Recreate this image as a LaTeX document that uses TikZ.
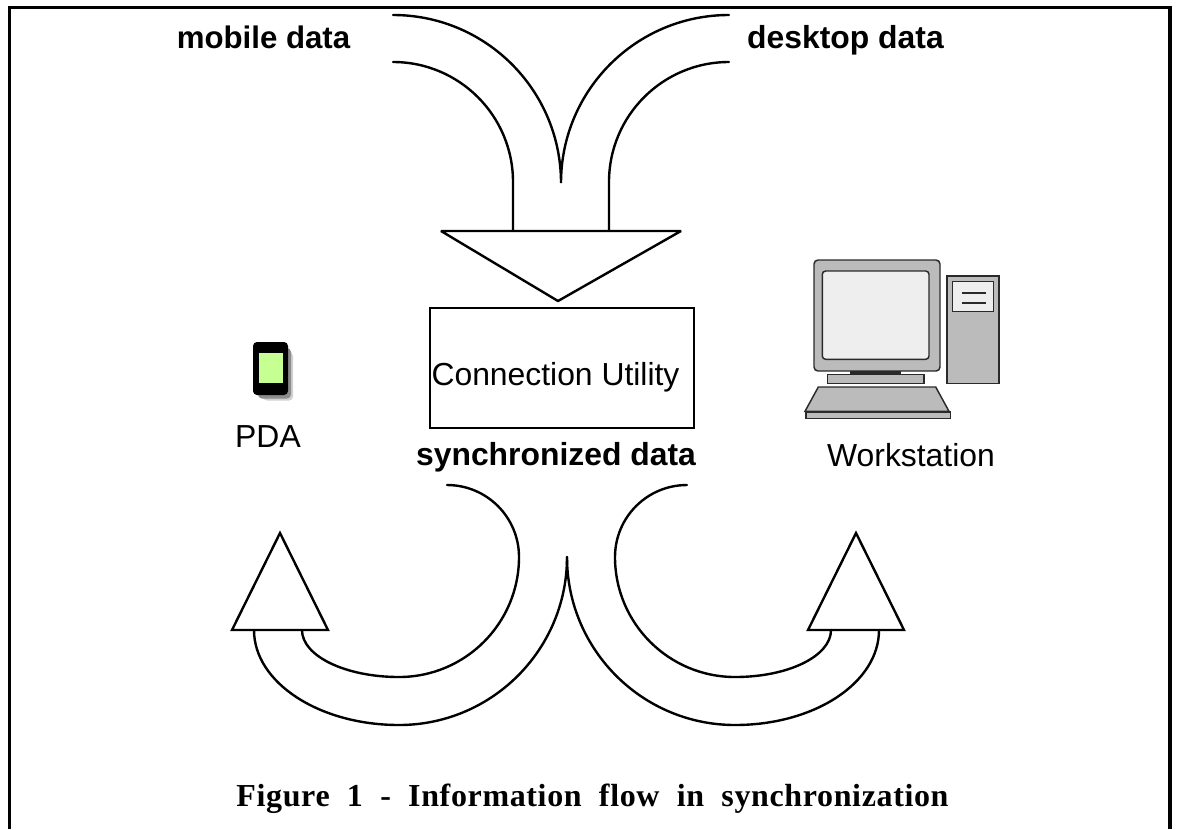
\documentclass[tikz,border=0pt]{standalone}
\usepackage{fontspec}
\setmainfont{Liberation Sans}
\newfontfamily\capfont[LetterSpace=2,WordSpace=2]{Liberation Serif}
\definecolor{compgrey}{HTML}{BBBBBB}
\definecolor{screengrey}{HTML}{EEEEEE}
\definecolor{compline}{HTML}{2A2A2A}
\definecolor{pdagreen}{HTML}{C6FF92}
\tikzset{
  flow/.style={line width=1.8pt,line cap=round,line join=miter},
  frameline/.style={line width=2.4pt},
  labelbold/.style={font=\fontsize{23.9}{26}\selectfont\bfseries,inner sep=0pt,anchor=base},
  labelplain/.style={font=\fontsize{23.9}{26}\selectfont,inner sep=0pt,anchor=base},
  compshape/.style={draw=compline,fill=compgrey,line width=1.1pt},
  compscreen/.style={draw=compline,fill=screengrey,line width=1.1pt},
}
\begin{document}
\begin{tikzpicture}[x=0.75pt,y=-0.75pt]
\useasboundingbox (0,0) rectangle (1180,829);
\fill[white] (0,0) rectangle (1180,829);
% frame
\draw[frameline] (9.5,829) -- (9.5,7.5) -- (1170,7.5) -- (1170,829);
% top flow
\draw[flow] (393,15) .. controls (485.8,15) and (561,90.2) .. (561,183)
  .. controls (561,90.2) and (636.2,15) .. (729,15);
\draw[flow] (393,62) .. controls (459.3,62) and (513,115.7) .. (513,182) -- (513,231);
\draw[flow] (729,62) .. controls (662.7,62) and (609,115.7) .. (609,182) -- (609,231);
\draw[flow,line join=bevel] (441,231) -- (681,231) -- (558,301) -- cycle;
% box
\node[draw,line width=1.8pt,inner sep=0pt,minimum width=198pt,minimum height=90pt] (util) at (562,368) {};
\node[labelplain] (utiltext) at (555.5,385) {Connection Utility};
% labels
\node[labelbold,font=\fontsize{23.4}{26}\selectfont\bfseries] (mobile) at (263.5,48) {mobile data};
\node[labelbold] (desktop) at (845.5,48) {desktop data};
\node[labelbold] (sync) at (556,465) {synchronized data};
\node[labelplain] (pda) at (268,447.5) {PDA};
\node[labelplain] (work) at (911,466.5) {Workstation};
% bottom flow left
\draw[flow] (447,485) .. controls (486.8,485) and (519,517.2) .. (519,557)
  .. controls (519,623.3) and (465.3,677) .. (399,677)
  .. controls (345.4,677) and (302,656) .. (302,630);
\draw[flow] (567,557) .. controls (567,649.8) and (491.8,725) .. (399,725)
  .. controls (319,725) and (254,682.5) .. (254,630);
\draw[flow] (232,630) -- (328,630) -- (280,533) -- cycle;
% bottom flow right
\draw[flow] (687,485) .. controls (647.2,485) and (615,517.2) .. (615,557)
  .. controls (615,623.3) and (668.7,677) .. (735,677)
  .. controls (788.6,677) and (831,656) .. (831,630);
\draw[flow] (567,557) .. controls (567,649.8) and (642.2,725) .. (735,725)
  .. controls (815,725) and (879,682.5) .. (879,630);
\draw[flow] (808,630) -- (904,630) -- (856,533) -- cycle;
% PDA icon
\fill[black!18,rounded corners=3] (263,352) rectangle (293,400.5);
\fill[black!45,rounded corners=3] (258,348) rectangle (291,398.5);
\fill[black,rounded corners=3] (253,342) rectangle (288,395);
\fill[pdagreen] (258.5,352.7) rectangle (282.7,382.7);
% workstation
\draw[compshape,rounded corners=3] (814,260) rectangle (940,371);
\draw[compscreen,rounded corners=2.5] (822.3,271) rectangle (929,359.3);
\fill[compline] (850,370.7) rectangle (901,374.5);
\draw[compshape] (827.3,374.7) rectangle (924,383.7);
\draw[compshape] (818.3,387) -- (935.7,387) -- (949,411.3) -- (805,411.3) -- cycle;
\draw[compshape] (806,412) rectangle (950.7,418.3);
\draw[compshape] (947,276) rectangle (999,383.7);
\draw[compscreen] (952.7,281.7) rectangle (993.3,311.3);
\draw[compline,line width=1.8pt] (962.3,292.7) -- (986.3,292.7);
\draw[compline,line width=1.8pt] (962.3,303) -- (986.3,303);
% caption
\node[inner sep=0pt,anchor=base,font=\capfont\fontsize{24}{26}\selectfont\bfseries] (cap) at (592.5,806) {Figure 1 - Information flow in synchronization};
\end{tikzpicture}
\end{document}
